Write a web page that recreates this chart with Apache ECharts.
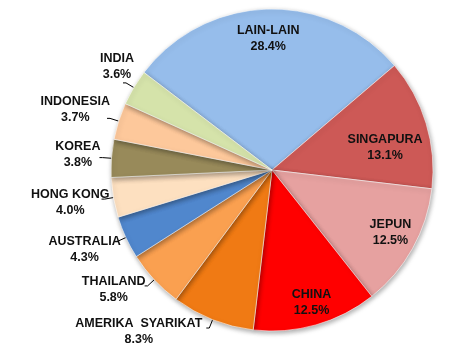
<!DOCTYPE html>
<html>
<head>
<meta charset="utf-8">
<style>html,body{margin:0;padding:0;background:#fff;}#c{width:471px;height:350px;}</style>
<script src="https://cdn.jsdelivr.net/npm/echarts@6/dist/echarts.min.js"></script>
</head>
<body>
<div id="c"></div>
<script>
const categories = ['LAIN-LAIN','SINGAPURA','JEPUN','CHINA','AMERIKA  SYARIKAT','THAILAND','AUSTRALIA','HONG KONG','KOREA','INDONESIA','INDIA'];
const values = [28.4, 13.1, 12.5, 12.5, 8.3, 5.8, 4.3, 4.0, 3.8, 3.7, 3.6];
const colors = ['#96BDEB','#CD5956','#E6A1A0','#FF0000','#F07A14','#FAA050','#5087CD','#FDE0C0','#988A5A','#FDC89B','#D5E3AA'];
const insideNames = ['LAIN-LAIN','SINGAPURA','JEPUN','CHINA'];

// small label nudges (layout styling, not data)
const labelNudge = {'INDIA':[12,-16],'INDONESIA':[4,-9],'KOREA':[2,-3],'HONG KONG':[9,3],'AUSTRALIA':[7,8],'THAILAND':[2,4],'AMERIKA  SYARIKAT':[-3,4],
  'LAIN-LAIN':[0,6],'SINGAPURA':[-19,18],'JEPUN':[-2,-5],'CHINA':[2,0]};

const txt = {fontFamily:'Liberation Sans, Arial, sans-serif', fontSize:12.5, fontWeight:'bold', color:'#111', lineHeight:16, align:'center'};
const labelFont = {fontFamily:txt.fontFamily, fontSize:txt.fontSize, fontWeight:'bold', color:'#111', lineHeight:16,
  rich:{n:txt, p:txt}};
const fmt = p => '{n|' + p.name + '}\n{p|' + p.value.toFixed(1) + '%}';
const nudge = p => { const d = labelNudge[categories[p.dataIndex]]; return d ? {dx:d[0], dy:d[1]} : {}; };

const chart = echarts.init(document.getElementById('c'));
const center = [272, 170];
const startAngle = 142.7;
const isInside = n => insideNames.includes(n);

chart.setOption({
  animation:false,
  series:[
    {
      type:'pie', center, radius:161, startAngle, animation:false,
      avoidLabelOverlap:true,
      itemStyle:{borderColor:'rgba(255,255,255,0.55)', borderWidth:1, shadowBlur:5, shadowColor:'rgba(0,0,0,0.35)', shadowOffsetX:1, shadowOffsetY:2},
      labelLine:{show:true, length:9, length2:3, lineStyle:{color:'#000', width:1}},
      labelLayout: nudge,
      data: categories.map((n,i)=>({
        name:n, value:values[i], itemStyle:{color:colors[i]},
        label:{show:!isInside(n), position:'outside', formatter:fmt, ...labelFont, distanceToLabelLine:1},
        labelLine:{show:!isInside(n)}
      }))
    },
    {
      type:'pie', center, radius:[110,160], startAngle, silent:true, animation:false,
      emphasis:{disabled:true}, labelLine:{show:false}, labelLayout: nudge,
      data: categories.map((n,i)=>({
        name:n, value:values[i],
        itemStyle:{color:'rgba(0,0,0,0)'},
        label:{show:isInside(n), position:'inside', formatter:fmt, ...labelFont}
      }))
    }
  ]
});
</script>
</body>
</html>
